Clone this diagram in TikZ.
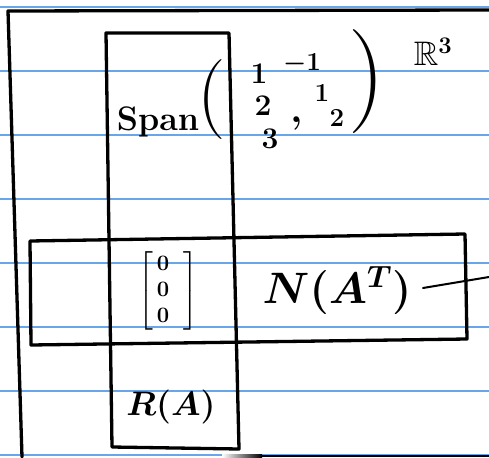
\RequirePackage{fix-cm}
\documentclass[tikz,border=0pt]{standalone}
\usepackage{amsmath}
\usepackage{amssymb}
\definecolor{ruleblue}{RGB}{105,165,235}
\begin{document}
\begin{tikzpicture}[x=1pt,y=-1pt,
  rule/.style={ruleblue,line width=1.4pt},
  ink/.style={black,line width=3.3pt,line cap=round,line join=round},
  thinink/.style={black,line width=2pt,line cap=round},
  hand/.style={inner sep=0pt,outer sep=0pt,text=black}]
\useasboundingbox (0,0) rectangle (489,457);
% ruled paper
\foreach \y in {7,71,...,455} \draw[rule] (0,\y) -- (489,\y);
% outer frame
\coordinate (o1) at (8,11);
\coordinate (o2) at (489,10);
\coordinate (o3) at (22,457);
\draw[ink] (o2) -- (o1) -- (o3);
% bottom edge
\fill[left color=white,right color=black] (222,454.6) rectangle (262,457);
\fill[black] (262,454.6) rectangle (489,457);
% vertical box
\coordinate (v1) at (106,33);
\coordinate (v2) at (229,33);
\coordinate (v3) at (239,449);
\coordinate (v4) at (112,447);
\draw[ink] (v1) -- (v2) -- (v3) -- (v4) -- cycle;
% horizontal box
\coordinate (h1) at (30,241);
\coordinate (h2) at (465,234);
\coordinate (h3) at (467,339);
\coordinate (h4) at (31,345);
\draw[ink] (h1) -- (h2) -- (h3) -- (h4) -- cycle;
% stroke at right
\coordinate (s1) at (423,288);
\coordinate (s2) at (489,277);
\draw[thinink] (s1) -- (s2);
% Span expression
\node[hand,font=\fontsize{34}{34}\selectfont\bfseries] (span) at (158,122) {Span};
\node[hand,font=\fontsize{80}{80}\selectfont] (lp) at (212,100) {(};
\node[hand,font=\fontsize{30}{30}\selectfont\bfseries] (a1) at (259,74) {1};
\node[hand,font=\fontsize{30}{30}\selectfont\bfseries] (a2) at (263,106) {2};
\node[hand,font=\fontsize{30}{30}\selectfont\bfseries] (a3) at (270,139) {3};
\node[hand,font=\fontsize{40}{40}\selectfont\bfseries] (cm) at (297,124) {,};
\node[hand,font=\fontsize{26}{26}\selectfont\bfseries\boldmath] (b1) at (302,64) {$-1$};
\node[hand,font=\fontsize{26}{26}\selectfont\bfseries] (b2) at (322,93) {1};
\node[hand,font=\fontsize{26}{26}\selectfont\bfseries] (b3) at (337,118) {2};
\node[hand,font=\fontsize{104}{104}\selectfont] (rp) at (367,82) {)};
\node[hand,font=\fontsize{34}{34}\selectfont\boldmath] (r3) at (433,52) {$\mathbb{R}^3$};
% zero vector
\node[hand,font=\fontsize{22}{26}\selectfont\bfseries\boldmath] (zero) at (168,291)
  {$\left[\hspace{4pt}\begin{matrix}\mathbf{0}\\\mathbf{0}\\\mathbf{0}\end{matrix}\hspace{14pt}\right]$};
\node[hand,font=\fontsize{44}{44}\selectfont\boldmath] (nat) at (337,290) {$N(A^T)$};
\node[hand,font=\fontsize{34}{34}\selectfont\boldmath] (ra) at (171,407) {$R(A)$};
\end{tikzpicture}
\end{document}
